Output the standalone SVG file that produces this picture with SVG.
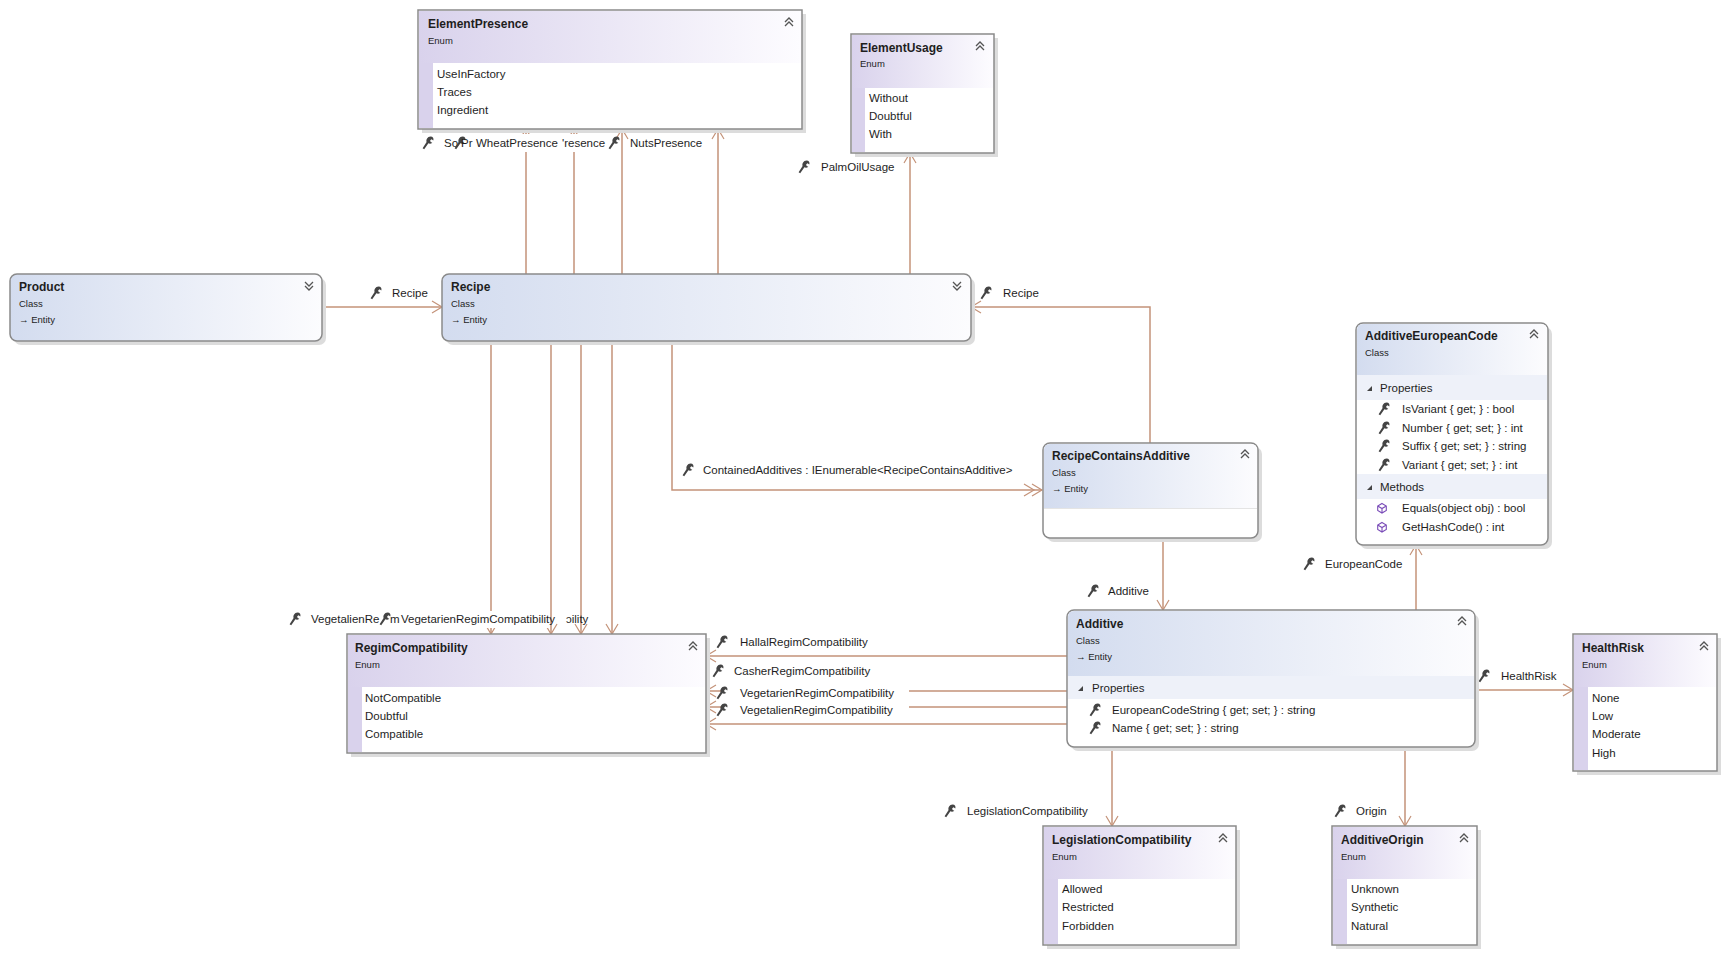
<svg xmlns="http://www.w3.org/2000/svg" xmlns:xlink="http://www.w3.org/1999/xlink" width="1723" height="954" viewBox="0 0 1723 954">
<style>
text{font-family:"Liberation Sans",Arial,sans-serif;font-size:11.5px;fill:#1e1e1e;dominant-baseline:central}
.t{font-weight:bold;font-size:12px}
.s{font-size:9.5px}
.box{stroke:#8a8a8a;stroke-width:1.5}
.sh{fill:#dcdcdc}
.body{fill:#fff}
.c{fill:none;stroke:#c49379;stroke-width:1.5}
.ah{fill:none;stroke:#c49379;stroke-width:1.2}
.chev{fill:none;stroke:#555;stroke-width:1.3}
.row{fill:#eef1f9}
</style>
<defs>
<linearGradient id="gc" x1="0" x2="1" y1="0" y2="0"><stop offset="0" stop-color="#d3dcef"/><stop offset="1" stop-color="#fcfcfe"/></linearGradient>
<linearGradient id="ge" x1="0" x2="1" y1="0" y2="0"><stop offset="0" stop-color="#d9d2ec"/><stop offset="1" stop-color="#fdfcff"/></linearGradient>
<symbol id="w" viewBox="0 0 12 14" overflow="visible"><path d="M8.5,0.5 C11,0.5 12,2.5 11.3,4.5 L9.6,3.2 L8.2,4.2 L8.6,6 L10.3,6.7 C9,8 7.2,7.8 6.4,7.2 L2.2,13.2 L0.6,12.2 L4.6,6 C3.8,3.8 5.5,0.5 8.5,0.5Z" fill="#444"/></symbol>
<symbol id="up" viewBox="0 0 10 10" overflow="visible"><path d="M1,5 L5,1 L9,5 M1,9 L5,5 L9,9" class="chev"/></symbol>
<symbol id="dn" viewBox="0 0 10 10" overflow="visible"><path d="M1,1 L5,5 L9,1 M1,5 L5,9 L9,5" class="chev"/></symbol>
<symbol id="m" viewBox="0 0 10 10" overflow="visible"><path d="M5,0.5 L9.3,3 L9.3,7.5 L5,10 L0.7,7.5 L0.7,3Z M0.7,3 L5,5.5 L9.3,3 M5,5.5 L5,10" fill="none" stroke="#7a4cb8" stroke-width="1.1"/></symbol>
</defs>
<rect width="1723" height="954" fill="#fff"/>

<g id="connectors">
<path class="c" d="M322,307 L442,307"/><path class="ah" d="M432,301 L442,307 L432,313"/>
<use href="#w" x="370" y="286" width="12" height="14"/><text x="392" y="293">Recipe</text>
<path class="c" d="M526,274 V129 M574,274 V129 M622,274 V129 M718,274 V129"/>
<path class="ah" d="M520,139 L526,129 L532,139 M568,139 L574,129 L580,139 M616,139 L622,129 L628,139 M712,139 L718,129 L724,139"/>
<use href="#w" x="422" y="136" width="12" height="14"/><text x="444" y="143">So</text>
<use href="#w" x="454" y="136" width="12" height="14"/><text x="461" y="143">Pr</text>
<rect x="474" y="134" width="90" height="18" fill="#fff"/><text x="476" y="143">WheatPresence</text>
<rect x="560" y="134" width="48" height="18" fill="#fff"/><text x="562" y="143">'resence</text>
<use href="#w" x="608" y="136" width="12" height="14"/><text x="630" y="143">NutsPresence</text>
<path class="c" d="M910,274 V153"/><path class="ah" d="M904,163 L910,153 L916,163"/>
<use href="#w" x="798" y="160" width="12" height="14"/><text x="821" y="167">PalmOilUsage</text>
<path class="c" d="M491,341 V634 M551,341 V634 M581,341 V634 M612,341 V634"/>
<path class="ah" d="M485,624 L491,634 L497,624 M545,624 L551,634 L557,624 M575,624 L581,634 L587,624 M606,624 L612,634 L618,624"/>
<use href="#w" x="289" y="612" width="12" height="14"/><text x="311" y="619">VegetalienRe</text>
<use href="#w" x="379" y="612" width="12" height="14"/><text x="390" y="619">m</text>
<rect x="400" y="611" width="149" height="17" fill="#fff"/><text x="401" y="619">VegetarienRegimCompatibility</text>
<text x="566" y="619">ɔility</text>
<path class="c" d="M672,341 V490 H1042"/>
<path class="ah" d="M1024,484 L1034,490 L1024,496 M1032,484 L1042,490 L1032,496"/>
<use href="#w" x="682" y="463" width="12" height="14"/><text x="703" y="470">ContainedAdditives : IEnumerable&lt;RecipeContainsAdditive&gt;</text>
<path class="c" d="M1150,443 V307 H971"/><path class="ah" d="M981,301 L971,307 L981,313"/>
<use href="#w" x="980" y="286" width="12" height="14"/><text x="1003" y="293">Recipe</text>
<path class="c" d="M1163,538 V610"/><path class="ah" d="M1157,600 L1163,610 L1169,600"/>
<use href="#w" x="1087" y="584" width="12" height="14"/><text x="1108" y="591">Additive</text>
<path class="c" d="M1416,610 V545"/><path class="ah" d="M1410,555 L1416,545 L1422,555"/>
<use href="#w" x="1303" y="557" width="12" height="14"/><text x="1325" y="564">EuropeanCode</text>
<path class="c" d="M1475,690 H1573"/><path class="ah" d="M1563,684 L1573,690 L1563,696"/>
<use href="#w" x="1478" y="669" width="12" height="14"/><text x="1501" y="676">HealthRisk</text>
<path class="c" d="M1067,656 H706 M1067,724 H706 M1067,691 H909 M722,691 H706 M1067,707 H909 M722,707 H706"/>
<path class="ah" d="M716,650 L706,656 L716,662 M716,685 L706,691 L716,697 M716,701 L706,707 L716,713 M716,718 L706,724 L716,730"/>
<use href="#w" x="716" y="635" width="12" height="14"/><text x="740" y="642">HallalRegimCompatibility</text>
<use href="#w" x="712" y="664" width="12" height="14"/><text x="734" y="671">CasherRegimCompatibility</text>
<use href="#w" x="716" y="686" width="12" height="14"/><text x="740" y="693">VegetarienRegimCompatibility</text>
<use href="#w" x="716" y="703" width="12" height="14"/><text x="740" y="710">VegetalienRegimCompatibility</text>
<path class="c" d="M1112,747 V826 M1405,747 V826"/>
<path class="ah" d="M1106,816 L1112,826 L1118,816 M1399,816 L1405,826 L1411,816"/>
<use href="#w" x="944" y="804" width="12" height="14"/><text x="967" y="811">LegislationCompatibility</text>
<use href="#w" x="1334" y="804" width="12" height="14"/><text x="1356" y="811">Origin</text>
</g>

<g id="ElementPresence">
<rect class="sh" x="422" y="14" width="384" height="119"/>
<rect class="body box" x="418" y="10" width="384" height="119"/>
<rect x="419" y="11" width="382" height="52" fill="url(#ge)"/>
<rect x="419" y="63" width="14" height="65" fill="#d9d2ec"/>
<text class="t" x="428" y="24">ElementPresence</text><text class="s" x="428" y="40">Enum</text>
<use href="#up" x="784" y="17" width="10" height="10"/>
<text x="437" y="74">UseInFactory</text><text x="437" y="92">Traces</text><text x="437" y="110">Ingredient</text>
</g>

<g id="ElementUsage">
<rect class="sh" x="855" y="38" width="143" height="119"/>
<rect class="body box" x="851" y="34" width="143" height="119"/>
<rect x="852" y="35" width="141" height="53" fill="url(#ge)"/>
<rect x="852" y="88" width="13" height="64" fill="#d9d2ec"/>
<text class="t" x="860" y="48">ElementUsage</text><text class="s" x="860" y="63">Enum</text>
<use href="#up" x="975" y="41" width="10" height="10"/>
<text x="869" y="98">Without</text><text x="869" y="116">Doubtful</text><text x="869" y="134">With</text>
</g>

<g id="Product">
<rect class="sh" x="14" y="278" width="312" height="67" rx="7"/>
<rect class="box" x="10" y="274" width="312" height="67" rx="7" fill="url(#gc)"/>
<text class="t" x="19" y="287">Product</text><text class="s" x="19" y="303">Class</text><text class="s" x="19" y="319">→ Entity</text>
<use href="#dn" x="304" y="281" width="10" height="10"/>
</g>

<g id="Recipe">
<rect class="sh" x="446" y="278" width="529" height="67" rx="7"/>
<rect class="box" x="442" y="274" width="529" height="67" rx="7" fill="url(#gc)"/>
<text class="t" x="451" y="287">Recipe</text><text class="s" x="451" y="303">Class</text><text class="s" x="451" y="319">→ Entity</text>
<use href="#dn" x="952" y="281" width="10" height="10"/>
</g>

<g id="RegimCompatibility">
<rect class="sh" x="351" y="638" width="359" height="119"/>
<rect class="body box" x="347" y="634" width="359" height="119"/>
<rect x="348" y="635" width="357" height="52" fill="url(#ge)"/>
<rect x="348" y="687" width="14" height="65" fill="#d9d2ec"/>
<text class="t" x="355" y="648">RegimCompatibility</text><text class="s" x="355" y="664">Enum</text>
<use href="#up" x="688" y="641" width="10" height="10"/>
<text x="365" y="698">NotCompatible</text><text x="365" y="716">Doubtful</text><text x="365" y="734">Compatible</text>
</g>

<g id="RecipeContainsAdditive">
<rect class="sh" x="1047" y="447" width="215" height="95" rx="7"/>
<rect class="body box" x="1043" y="443" width="215" height="95" rx="7"/>
<path d="M1044,508 V450 Q1044,444 1050,444 H1251 Q1257,444 1257,450 V508Z" fill="url(#gc)"/>
<line x1="1044" y1="508.5" x2="1257" y2="508.5" stroke="#e4e4e4"/>
<text class="t" x="1052" y="456">RecipeContainsAdditive</text><text class="s" x="1052" y="472">Class</text><text class="s" x="1052" y="488">→ Entity</text>
<use href="#up" x="1240" y="449" width="10" height="10"/>
</g>

<g id="AdditiveEuropeanCode">
<rect class="sh" x="1360" y="327" width="192" height="222" rx="7"/>
<rect class="body box" x="1356" y="323" width="192" height="222" rx="7"/>
<path d="M1357,375 V330 Q1357,324 1363,324 H1541 Q1547,324 1547,330 V375Z" fill="url(#gc)"/>
<rect class="row" x="1357" y="375" width="190" height="25"/>
<rect class="row" x="1357" y="474" width="190" height="25"/>
<text class="t" x="1365" y="336">AdditiveEuropeanCode</text><text class="s" x="1365" y="352">Class</text>
<use href="#up" x="1529" y="329" width="10" height="10"/>
<path d="M1367,391 L1372,386 L1372,391Z" fill="#444"/><text x="1380" y="388">Properties</text>
<use href="#w" x="1378" y="402" width="12" height="14"/><text x="1402" y="409">IsVariant { get; } : bool</text>
<use href="#w" x="1378" y="421" width="12" height="14"/><text x="1402" y="428">Number { get; set; } : int</text>
<use href="#w" x="1378" y="439" width="12" height="14"/><text x="1402" y="446">Suffix { get; set; } : string</text>
<use href="#w" x="1378" y="458" width="12" height="14"/><text x="1402" y="465">Variant { get; set; } : int</text>
<path d="M1367,490 L1372,485 L1372,490Z" fill="#444"/><text x="1380" y="487">Methods</text>
<use href="#m" x="1377" y="503" width="10" height="10"/><text x="1402" y="508">Equals(object obj) : bool</text>
<use href="#m" x="1377" y="522" width="10" height="10"/><text x="1402" y="527">GetHashCode() : int</text>
</g>

<g id="Additive">
<rect class="sh" x="1071" y="614" width="408" height="137" rx="7"/>
<rect class="body box" x="1067" y="610" width="408" height="137" rx="7"/>
<path d="M1068,676 V617 Q1068,611 1074,611 H1468 Q1474,611 1474,617 V676Z" fill="url(#gc)"/>
<rect class="row" x="1068" y="676" width="406" height="23"/>
<text class="t" x="1076" y="624">Additive</text><text class="s" x="1076" y="640">Class</text><text class="s" x="1076" y="656">→ Entity</text>
<use href="#up" x="1457" y="616" width="10" height="10"/>
<path d="M1078,691 L1083,686 L1083,691Z" fill="#444"/><text x="1092" y="688">Properties</text>
<use href="#w" x="1089" y="703" width="12" height="14"/><text x="1112" y="710">EuropeanCodeString { get; set; } : string</text>
<use href="#w" x="1089" y="721" width="12" height="14"/><text x="1112" y="728">Name { get; set; } : string</text>
</g>

<g id="HealthRisk">
<rect class="sh" x="1577" y="638" width="144" height="137"/>
<rect class="body box" x="1573" y="634" width="144" height="137"/>
<rect x="1574" y="635" width="142" height="52" fill="url(#ge)"/>
<rect x="1574" y="687" width="14" height="83" fill="#d9d2ec"/>
<text class="t" x="1582" y="648">HealthRisk</text><text class="s" x="1582" y="664">Enum</text>
<use href="#up" x="1699" y="641" width="10" height="10"/>
<text x="1592" y="698">None</text><text x="1592" y="716">Low</text><text x="1592" y="734">Moderate</text><text x="1592" y="753">High</text>
</g>

<g id="LegislationCompatibility">
<rect class="sh" x="1047" y="830" width="193" height="119"/>
<rect class="body box" x="1043" y="826" width="193" height="119"/>
<rect x="1044" y="827" width="191" height="52" fill="url(#ge)"/>
<rect x="1044" y="879" width="14" height="65" fill="#d9d2ec"/>
<text class="t" x="1052" y="840">LegislationCompatibility</text><text class="s" x="1052" y="856">Enum</text>
<use href="#up" x="1218" y="833" width="10" height="10"/>
<text x="1062" y="889">Allowed</text><text x="1062" y="907">Restricted</text><text x="1062" y="926">Forbidden</text>
</g>

<g id="AdditiveOrigin">
<rect class="sh" x="1336" y="830" width="145" height="119"/>
<rect class="body box" x="1332" y="826" width="145" height="119"/>
<rect x="1333" y="827" width="143" height="52" fill="url(#ge)"/>
<rect x="1333" y="879" width="14" height="65" fill="#d9d2ec"/>
<text class="t" x="1341" y="840">AdditiveOrigin</text><text class="s" x="1341" y="856">Enum</text>
<use href="#up" x="1459" y="833" width="10" height="10"/>
<text x="1351" y="889">Unknown</text><text x="1351" y="907">Synthetic</text><text x="1351" y="926">Natural</text>
</g>
</svg>
